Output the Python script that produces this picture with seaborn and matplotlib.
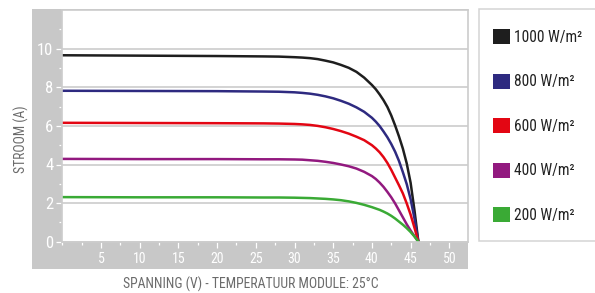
import matplotlib
matplotlib.use("Agg")
import matplotlib.pyplot as plt
from matplotlib.patches import Rectangle, Patch
from matplotlib.ticker import MultipleLocator, FixedLocator
import pandas as pd
import seaborn as sns

# ── Data ──────────────────────────────────────────────────────────────────────
voltage = [0, 10, 20, 26, 28, 30, 31, 32, 33, 34, 35, 36, 37, 38, 39, 40,
           40.5, 41, 41.5, 42, 42.5, 43, 43.5, 44, 44.5, 45, 45.5, 46]

i_1000 = [9.66, 9.64, 9.62, 9.60, 9.59, 9.56, 9.54, 9.51, 9.46, 9.38, 9.29, 9.16, 9.01, 8.80,
          8.50, 8.12, 7.90, 7.63, 7.33, 6.98, 6.54, 6.02, 5.45, 4.82, 4.05, 3.05, 1.62, 0.0]
i_800  = [7.82, 7.81, 7.80, 7.78, 7.77, 7.74, 7.71, 7.67, 7.61, 7.53, 7.43, 7.30, 7.15, 6.96,
          6.73, 6.42, 6.22, 5.99, 5.71, 5.41, 5.06, 4.66, 4.18, 3.60, 2.98, 2.20, 1.20, 0.0]
i_600  = [6.16, 6.15, 6.14, 6.13, 6.12, 6.10, 6.08, 6.05, 6.00, 5.93, 5.84, 5.73, 5.60, 5.44,
          5.26, 5.00, 4.83, 4.63, 4.38, 4.08, 3.72, 3.32, 2.92, 2.50, 1.98, 1.40, 0.72, 0.0]
i_400  = [4.29, 4.28, 4.28, 4.27, 4.27, 4.26, 4.25, 4.22, 4.19, 4.14, 4.08, 4.00, 3.91, 3.79,
          3.62, 3.40, 3.25, 3.06, 2.84, 2.58, 2.30, 1.98, 1.62, 1.26, 0.90, 0.58, 0.28, 0.0]
i_200  = [2.31, 2.30, 2.30, 2.29, 2.29, 2.28, 2.27, 2.26, 2.24, 2.22, 2.19, 2.15, 2.09, 2.01,
          1.91, 1.79, 1.72, 1.65, 1.56, 1.46, 1.34, 1.20, 1.04, 0.88, 0.70, 0.50, 0.27, 0.0]

labels = ["1000 W/m²", "800 W/m²", "600 W/m²", "400 W/m²", "200 W/m²"]
series = [i_1000, i_800, i_600, i_400, i_200]
line_colors = ["#1e1e1e", "#2e2a80", "#e30613", "#92197f", "#3aaa35"]

x_ticks = [5, 10, 15, 20, 25, 30, 35, 40, 45, 50]
y_ticks = [0, 2, 4, 6, 8, 10]

df = pd.concat(
    [pd.DataFrame({"V": voltage, "I": cur, "irr": lbl}) for lbl, cur in zip(labels, series)],
    ignore_index=True,
)

# ── Style ─────────────────────────────────────────────────────────────────────
sns.set_style("white")
plt.rcParams["font.family"] = ["Roboto Condensed", "Liberation Sans Narrow",
                               "Roboto", "DejaVu Sans"]

W, H = 595, 293
fig = plt.figure(figsize=(W / 100, H / 100), dpi=100)

def fx(px):
    return px / W

def fy(py):
    return 1 - py / H

GREY = "#c8c8c8"

# grey frame behind the plot area
fig.add_artist(Rectangle((fx(32), fy(269)), fx(468) - fx(32), fy(9) - fy(269),
                         transform=fig.transFigure, facecolor=GREY,
                         edgecolor="none", zorder=-2))

ax = fig.add_axes([fx(62.3), fy(241.7), fx(405.6), fy(10.1) - fy(241.7)])
ax.set_facecolor("white")

sns.lineplot(data=df, x="V", y="I", hue="irr", palette=dict(zip(labels, line_colors)),
             estimator=None, sort=False, linewidth=1.8, legend=False, ax=ax)

ax.set_xlim(0, 52.4)
ax.set_ylim(0, 12)

ax.xaxis.set_major_locator(FixedLocator(x_ticks))
ax.xaxis.set_minor_locator(MultipleLocator(2.5))
ax.yaxis.set_major_locator(FixedLocator(y_ticks))
ax.yaxis.set_minor_locator(FixedLocator([1, 3, 5, 7, 9, 11]))

ax.tick_params(axis="both", which="both", direction="out", color="white",
               labelcolor="white", width=0.9)
ax.tick_params(axis="y", which="major", length=4, pad=2.5, labelsize=12)
ax.tick_params(axis="y", which="minor", length=2)
ax.tick_params(axis="x", which="major", length=4, pad=3.5, labelsize=10)
ax.tick_params(axis="x", which="minor", length=2.2)
ax.xaxis.set_ticks_position("bottom")
ax.yaxis.set_ticks_position("left")

ax.yaxis.grid(True, which="major", color="#cccccc", linewidth=1.2)
ax.set_axisbelow(True)

for s in ax.spines.values():
    s.set_color("#cccccc")
    s.set_linewidth(1.2)

ax.set_xlabel("")
ax.set_ylabel("")

fig.text(fx(21), fy(139), "STROOM (A)", rotation=90, ha="center", va="center",
         fontsize=9.8, color="#6b6b6b")
fig.text(fx(250.5), fy(284), "SPANNING (V) - TEMPERATUUR MODULE: 25°C",
         ha="center", va="center", fontsize=9.9, color="#6b6b6b")

# legend box
fig.add_artist(Rectangle((fx(479), fy(240.7)), fx(130), fy(9.3) - fy(240.7),
                         transform=fig.transFigure, facecolor="white",
                         edgecolor="#d4d4d4", linewidth=1.1, zorder=-1))

handles = [Patch(facecolor=c, edgecolor="none", label=l) for c, l in zip(line_colors, labels)]
fig.legend(handles=handles, loc="upper left", bbox_to_anchor=(fx(493.3), fy(29.3)),
           bbox_transform=fig.transFigure, frameon=False, fontsize=11.2,
           handlelength=1.09, handleheight=1.09, handletextpad=0.22,
           labelspacing=1.85, borderpad=0, borderaxespad=0, labelcolor="#222222")

fig.savefig("out.png", dpi=100)
